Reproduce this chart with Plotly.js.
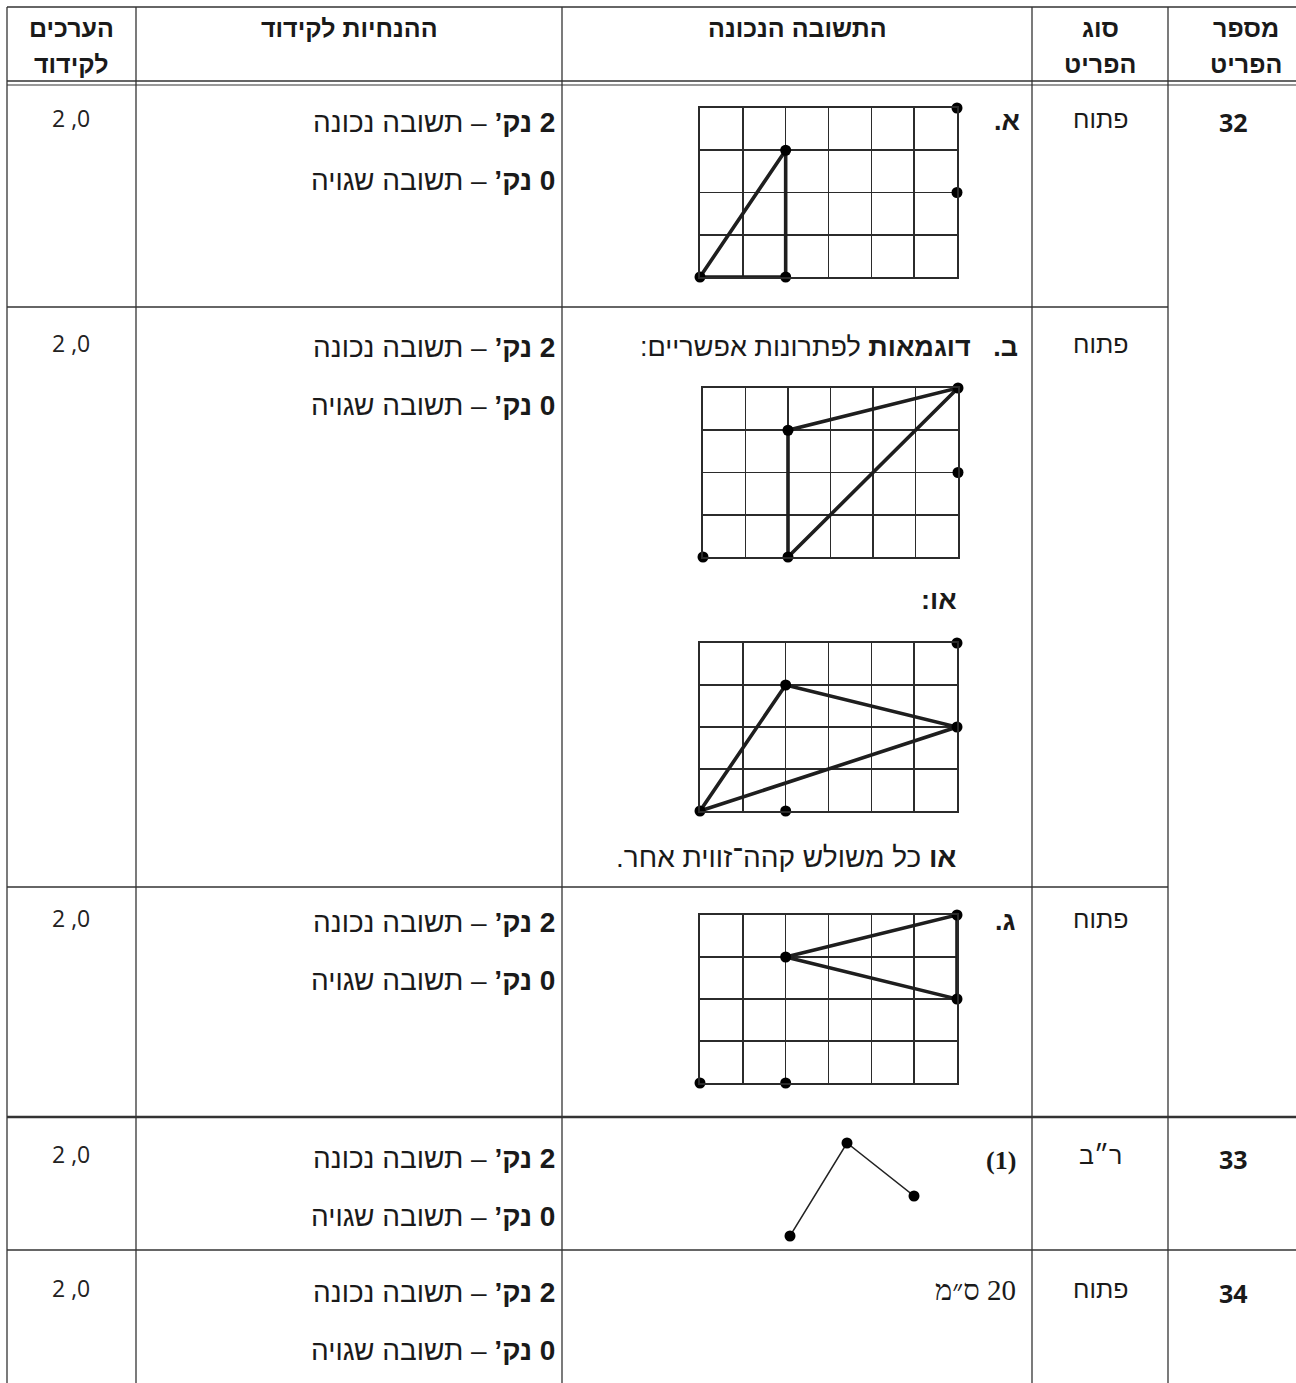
<!DOCTYPE html>
<html>
<head>
<meta charset="utf-8">
<script src="https://cdn.plot.ly/plotly-3.0.1.min.js"></script>
<style>html,body{margin:0;padding:0;background:#fff;}#chart{width:1296px;height:1383px;}</style>
</head>
<body>
<div id="chart"></div>
<script>
// ---------------- DATA ----------------
const headerLine1 = ['מספר', 'סוג', 'התשובה הנכונה', 'ההנחיות לקידוד', 'הערכים'];
const headerLine2 = ['הפריט', 'הפריט', '', '', 'לקידוד'];
const itemNumbers = ['32', '33', '34'];
const itemTypes = ['פתוח', 'פתוח', 'פתוח', 'ר״ב', 'פתוח'];
const codeValues = ['2 ,0', '2 ,0', '2 ,0', '2 ,0', '2 ,0'];
const guideCorrect = '<b>2 נק’</b> – תשובה נכונה';
const guideWrong = '<b>0 נק’</b> – תשובה שגויה';
const partLabels = ['<b>א.</b>', '<b>ב.</b>   <b>דוגמאות</b> לפתרונות אפשריים:', '<b>ג.</b>', '<b>(1)</b>'];
const orLabel = '<b>או:</b>';
const otherLabel = '<b>או</b> כל משולש קהה־זווית אחר.';
const answer34 = '20 ס״מ';

// grid size (cells)
const gridCols = 6, gridRows = 4;
// dots shown on every grid (grid units)
const dotsX = [6, 6, 2, 0, 2];
const dotsY = [4, 2, 3, 0, 0];
// triangles (closed polylines, grid units)
const triAX = [0, 2, 2, 0], triAY = [0, 3, 0, 0];
const triB1X = [2, 2, 6, 2], triB1Y = [0, 3, 4, 0];
const triB2X = [0, 2, 6, 0], triB2Y = [0, 3, 2, 0];
const triCX = [2, 6, 6, 2], triCY = [3, 4, 2, 3];
// item 33 figure
const fig33X = [0, 57, 124];
const fig33Y = [0, 93, 40];

// ---------------- LAYOUT HELPERS ----------------
const W = 1296, H = 1383;
const rtl = s => '\u202B' + s + '\u202C';
const BODY = 'Liberation Sans, DejaVu Sans, sans-serif';
const INK = '#1a1a1a';
const annotations = [];
function ann(x, y, text, o) {
  o = o || {};
  annotations.push({
    xref: 'x', yref: 'y', x: x, y: y, text: text, showarrow: false,
    xanchor: o.xa || 'center', yanchor: 'middle',
    font: {family: o.family || BODY, size: o.size || 26, color: o.color || INK}
  });
}
const shapes = [];
function hline(y, x0, x1, w) {
  shapes.push({type: 'line', xref: 'x', yref: 'y', x0: x0, x1: x1, y0: y, y1: y, line: {color: '#333', width: w || 1.3}});
}
function vline(x, y0, y1, w) {
  shapes.push({type: 'line', xref: 'x', yref: 'y', x0: x, x1: x, y0: y0, y1: y1, line: {color: '#333', width: w || 1.3}});
}

// table frame
const colX = [7, 136, 562, 1032, 1168];
hline(7, 7, W);
hline(81, 7, W, 1.6);
hline(85, 7, W, 1.0);
hline(307, 7, 1168);
hline(887, 7, 1168);
hline(1117, 7, W, 2.6);
hline(1250, 7, W);
colX.forEach(x => vline(x, 7, H));

// header text
const headX = [1246, 1100, 797, 349, 71];
headerLine1.forEach((t, i) => ann(headX[i], 28, rtl('<b>' + t + '</b>'), {size: 25}));
headerLine2.forEach((t, i) => { if (t) ann(headX[i], 64, rtl('<b>' + t + '</b>'), {size: 25}); });

// rows
const rowTop = [120, 345, 920, 1156, 1290];
rowTop.forEach((y, i) => {
  ann(71, y - 2, codeValues[i], {size: 23, family: 'Open Sans, DejaVu Sans, sans-serif', color: '#222'});
  ann(557, y + 2, rtl(guideCorrect), {xa: 'right', size: 28});
  ann(557, y + 60, rtl(guideWrong), {xa: 'right', size: 28});
  ann(1100, y - 1, itemTypes[i], {size: 25});
});
ann(1233, 122, '<b>' + itemNumbers[0] + '</b>', {size: 25, family: 'Open Sans, sans-serif'});
ann(1233, 1159, '<b>' + itemNumbers[1] + '</b>', {size: 25, family: 'Open Sans, sans-serif'});
ann(1233, 1293, '<b>' + itemNumbers[2] + '</b>', {size: 25, family: 'Open Sans, sans-serif'});

ann(1022, 121, rtl(partLabels[0]), {xa: 'right', size: 27});
ann(1020, 347, rtl(partLabels[1]), {xa: 'right', size: 27});
ann(1018, 921, rtl(partLabels[2]), {xa: 'right', size: 27});
ann(1018, 1160, rtl(partLabels[3]), {xa: 'right', size: 26, family: 'Liberation Serif, serif'});
ann(959, 600, rtl(orLabel), {xa: 'right', size: 27});
ann(958, 857, rtl(otherLabel), {xa: 'right', size: 28});
ann(1018, 1290, rtl(answer34), {xa: 'right', size: 29, family: 'Liberation Serif, serif'});

// ---------------- TRACES ----------------
const layout = {
  width: W, height: H, margin: {l: 0, r: 0, t: 0, b: 0},
  paper_bgcolor: '#fff', plot_bgcolor: 'rgba(0,0,0,0)', showlegend: false,
  xaxis: {range: [0, W], visible: false, domain: [0, 1], fixedrange: true},
  yaxis: {range: [H, 0], visible: false, domain: [0, 1], fixedrange: true},
  annotations: annotations, shapes: shapes
};
const traces = [{x: [0], y: [0], mode: 'markers', marker: {opacity: 0}, xaxis: 'x', yaxis: 'y', hoverinfo: 'skip'}];

function box(px0, px1, py0, py1) {
  return {x: [px0 / W, px1 / W], y: [1 - py1 / H, 1 - py0 / H]};
}
function gridAxes(n, b, nx, ny, showGrid) {
  const ax = {
    domain: b.x, range: [0, nx], showticklabels: false, ticks: '', zeroline: false,
    showgrid: showGrid, dtick: 1, tick0: 0, gridcolor: '#2b2b2b', gridwidth: 1.6,
    showline: showGrid, mirror: showGrid, linecolor: '#2b2b2b', linewidth: 1.6,
    anchor: 'y' + n, fixedrange: true
  };
  const ay = Object.assign({}, ax, {domain: b.y, range: [0, ny], anchor: 'x' + n});
  layout['xaxis' + n] = ax;
  layout['yaxis' + n] = ay;
}
function addGrid(n, b, triX, triY) {
  gridAxes(n, b, gridCols, gridRows, true);
  traces.push({x: triX, y: triY, mode: 'lines', line: {color: '#1e1e1e', width: 3.6},
    xaxis: 'x' + n, yaxis: 'y' + n, cliponaxis: false, hoverinfo: 'skip'});
  traces.push({x: dotsX, y: dotsY, mode: 'markers', marker: {color: '#000', size: 11},
    xaxis: 'x' + n, yaxis: 'y' + n, cliponaxis: false, hoverinfo: 'skip'});
}
addGrid(2, box(700, 957, 108, 277), triAX, triAY);
addGrid(3, box(703, 958, 388, 557), triB1X, triB1Y);
addGrid(4, box(700, 957, 643, 811), triB2X, triB2Y);
addGrid(5, box(700, 957, 915, 1083), triCX, triCY);

gridAxes(6, box(790, 914, 1143, 1236), 124, 93, false);
traces.push({x: fig33X, y: fig33Y, mode: 'lines+markers', line: {color: '#222', width: 1.5},
  marker: {color: '#000', size: 11}, xaxis: 'x6', yaxis: 'y6', cliponaxis: false, hoverinfo: 'skip'});

Plotly.newPlot('chart', traces, layout, {displayModeBar: false, staticPlot: true});
</script>
</body>
</html>
